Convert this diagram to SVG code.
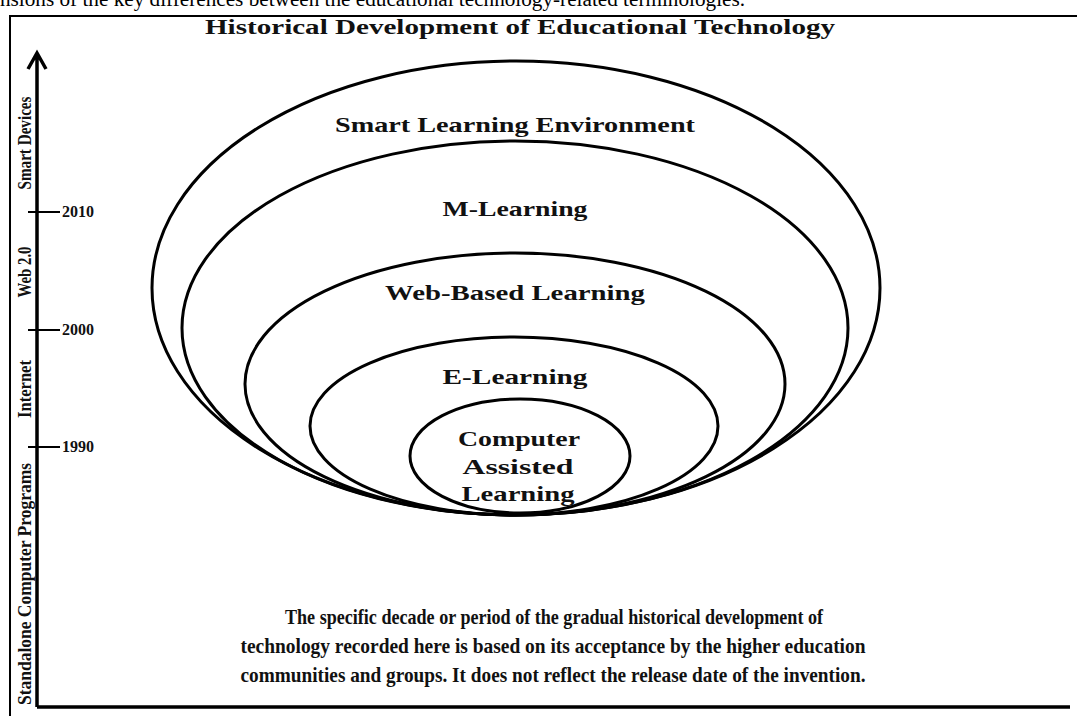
<svg xmlns="http://www.w3.org/2000/svg" width="1077" height="716" viewBox="0 0 1077 716">
<style>
.t{font-family:"Liberation Serif","Times New Roman",serif;font-weight:bold;fill:#111;}
.lbl{font-size:21px;text-anchor:middle;}
.rot{font-size:18px;text-anchor:middle;}
.yr{font-size:16px;}
.ell{fill:none;stroke:#000;stroke-width:3;}
.ax{stroke:#000;stroke-width:3.5;fill:none;}
</style>
<rect width="1077" height="716" fill="#fff"/>
<text x="0" y="6" font-family="Liberation Serif, serif" font-size="20" fill="#000" textLength="745" lengthAdjust="spacingAndGlyphs">nsions of the key differences between the educational technology-related terminologies.</text>
<g id="frame">
<path d="M10,716 V16 H1077" fill="none" stroke="#000" stroke-width="2"/>
</g>
<text id="title" class="t" x="205" y="34" font-size="20" textLength="630" lengthAdjust="spacingAndGlyphs">Historical Development of Educational Technology</text>
<g id="axis">
<path class="ax" d="M37,707 V53 M28,69 L37,53 L46,69 M37,707 H1070"/>
<path d="M28,212 H60 M28,330 H60 M28,447 H60" stroke="#000" stroke-width="2"/>
<text class="t yr" x="62" y="217">2010</text>
<text class="t yr" x="62" y="335">2000</text>
<text class="t yr" x="62" y="452">1990</text>
<text class="t rot" transform="translate(31,143) rotate(-90)" textLength="93" lengthAdjust="spacingAndGlyphs">Smart Devices</text>
<text class="t rot" transform="translate(31,272) rotate(-90)" textLength="51" lengthAdjust="spacingAndGlyphs">Web 2.0</text>
<text class="t rot" transform="translate(31,389) rotate(-90)" textLength="58" lengthAdjust="spacingAndGlyphs">Internet</text>
<text class="t rot" transform="translate(31,584) rotate(-90)" textLength="242" lengthAdjust="spacingAndGlyphs">Standalone Computer Programs</text>
</g>
<g id="smart-learning-environment">
<ellipse class="ell" cx="516" cy="288" rx="364" ry="227"/>
<text class="t lbl" x="515" y="132" textLength="360" lengthAdjust="spacingAndGlyphs">Smart Learning Environment</text>
</g>
<g id="m-learning">
<ellipse class="ell" cx="515" cy="328" rx="333" ry="187"/>
<text class="t lbl" x="515" y="216" textLength="145" lengthAdjust="spacingAndGlyphs">M-Learning</text>
</g>
<g id="web-based-learning">
<ellipse class="ell" cx="515" cy="384" rx="270" ry="131"/>
<text class="t lbl" x="515" y="300" textLength="260" lengthAdjust="spacingAndGlyphs">Web-Based Learning</text>
</g>
<g id="e-learning">
<ellipse class="ell" cx="514" cy="426" rx="204" ry="89"/>
<text class="t lbl" x="515" y="384" textLength="145" lengthAdjust="spacingAndGlyphs">E-Learning</text>
</g>
<g id="computer-assisted-learning">
<ellipse class="ell" cx="520" cy="456" rx="110" ry="57"/>
<text class="t lbl" x="519" y="446" textLength="122" lengthAdjust="spacingAndGlyphs">Computer</text>
<text class="t lbl" x="518" y="474" textLength="111" lengthAdjust="spacingAndGlyphs">Assisted</text>
<text class="t lbl" x="518" y="501" textLength="113" lengthAdjust="spacingAndGlyphs">Learning</text>
</g>
<g id="note">
<text class="t lbl" x="554" y="624" textLength="538" lengthAdjust="spacingAndGlyphs">The specific decade or period of the gradual historical development of</text>
<text class="t lbl" x="553" y="653" textLength="625" lengthAdjust="spacingAndGlyphs">technology recorded here is based on its acceptance by the higher education</text>
<text class="t lbl" x="553" y="682" textLength="625" lengthAdjust="spacingAndGlyphs">communities and groups. It does not reflect the release date of the invention.</text>
</g>
</svg>
